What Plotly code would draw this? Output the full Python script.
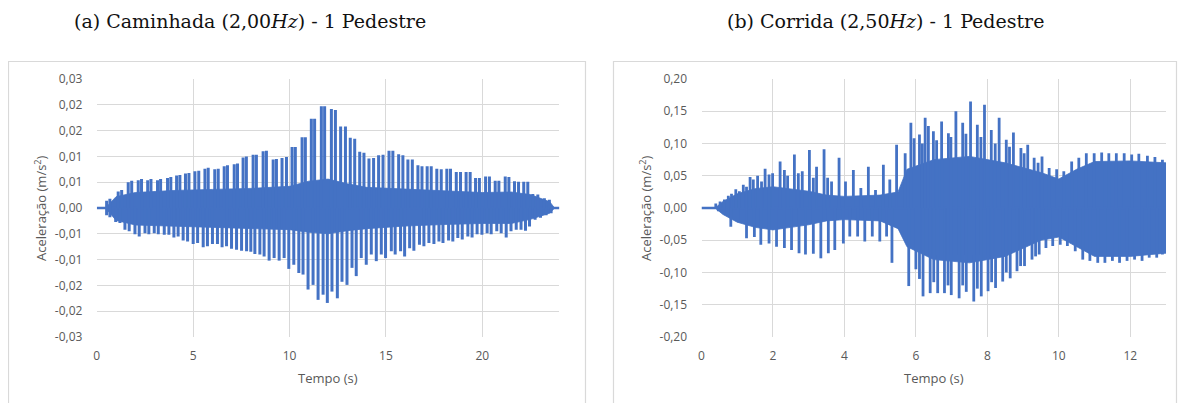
import plotly.graph_objects as go

W, H = 1186, 403
OFF = 8  # the page places the figure 8 px from the window's top-left corner

# ---------------- (a) Caminhada (2,00 Hz) ----------------
a_pos_t = [0.51, 0.68, 1.11, 1.29, 1.63, 1.81, 2.15, 2.32, 2.64, 2.81, 3.15, 3.31, 3.67, 3.84,
           4.14, 4.31, 4.60, 4.78, 5.09, 5.29, 5.61, 5.78, 6.12, 6.30, 6.61, 6.78, 7.13, 7.30,
           7.59, 7.76, 8.11, 8.28, 8.63, 8.80, 9.15, 9.32, 9.61, 9.84, 10.13, 10.30, 10.65, 10.82,
           11.13, 11.30, 11.65, 11.82, 12.17, 12.38, 12.65, 12.90, 13.15, 13.38, 13.64, 13.86,
           14.12, 14.36, 14.62, 14.85, 15.16, 15.36, 15.66, 15.88, 16.14, 16.37, 16.66, 16.87,
           17.14, 17.35, 17.64, 17.87, 18.16, 18.35, 18.65, 18.87, 19.16, 19.37, 19.65, 19.85,
           20.17, 20.37, 20.67, 20.86, 21.19, 21.38, 21.67, 21.88, 22.15, 22.36, 22.62, 22.88,
           23.22, 23.48]
a_pos_v = [0.0014, 0.0018, 0.0032, 0.0035, 0.0050, 0.0053, 0.0054, 0.0056, 0.0054, 0.0056, 0.0054,
           0.0056, 0.0058, 0.0060, 0.0063, 0.0064, 0.0067, 0.0068, 0.0071, 0.0072, 0.0076, 0.0078,
           0.0075, 0.0076, 0.0081, 0.0083, 0.0085, 0.0086, 0.0098, 0.0100, 0.0103, 0.0103, 0.0110,
           0.0111, 0.0094, 0.0095, 0.0097, 0.0099, 0.0118, 0.0118, 0.0137, 0.0137, 0.0173, 0.0173,
           0.0197, 0.0197, 0.0192, 0.0190, 0.0158, 0.0158, 0.0136, 0.0134, 0.0109, 0.0107, 0.0096,
           0.0097, 0.0102, 0.0103, 0.0111, 0.0111, 0.0104, 0.0102, 0.0094, 0.0094, 0.0083, 0.0081,
           0.0081, 0.0081, 0.0076, 0.0075, 0.0076, 0.0076, 0.0070, 0.0070, 0.0070, 0.0070, 0.0058,
           0.0058, 0.0061, 0.0061, 0.0053, 0.0053, 0.0061, 0.0060, 0.0052, 0.0051, 0.0051, 0.0051,
           0.0027, 0.0026, 0.0019, 0.0016]
a_neg_t = [0.51, 0.68, 0.98, 1.20, 1.46, 1.68, 1.98, 2.20, 2.50, 2.70, 2.98, 3.19, 3.50, 3.74,
           4.00, 4.22, 4.48, 4.71, 5.00, 5.23, 5.52, 5.74, 6.00, 6.26, 6.50, 6.73, 6.99, 7.25,
           7.51, 7.77, 7.99, 8.20, 8.46, 8.68, 8.94, 9.20, 9.46, 9.72, 9.96, 10.22, 10.48, 10.70,
           10.96, 11.22, 11.48, 11.74, 11.96, 12.20, 12.48, 12.72, 12.98, 13.24, 13.46, 13.72,
           13.98, 14.24, 14.50, 14.76, 14.98, 15.28, 15.48, 15.76, 15.97, 16.23, 16.45, 16.74,
           16.97, 17.23, 17.49, 17.75, 17.96, 18.25, 18.47, 18.73, 18.96, 19.25, 19.47, 19.73,
           19.98, 20.25, 20.46, 20.75, 20.98, 21.24, 21.49, 21.76, 22.01, 22.24, 22.45, 22.74,
           23.02, 23.31, 23.57]
a_neg_v = [-0.0014, -0.0018, -0.0027, -0.0029, -0.0042, -0.0045, -0.0051, -0.0055, -0.0049, -0.0051,
           -0.0049, -0.0051, -0.0052, -0.0052, -0.0057, -0.0055, -0.0063, -0.0065, -0.0070, -0.0068,
           -0.0076, -0.0074, -0.0070, -0.0070, -0.0076, -0.0074, -0.0079, -0.0081, -0.0083, -0.0084,
           -0.0085, -0.0089, -0.0090, -0.0094, -0.0102, -0.0097, -0.0102, -0.0097, -0.0118, -0.0110,
           -0.0126, -0.0129, -0.0158, -0.0149, -0.0178, -0.0168, -0.0184, -0.0162, -0.0175, -0.0143,
           -0.0149, -0.0116, -0.0132, -0.0097, -0.0110, -0.0090, -0.0103, -0.0090, -0.0097, -0.0084,
           -0.0090, -0.0084, -0.0094, -0.0078, -0.0083, -0.0071, -0.0074, -0.0068, -0.0070, -0.0065,
           -0.0068, -0.0063, -0.0065, -0.0058, -0.0061, -0.0055, -0.0057, -0.0051, -0.0052, -0.0049,
           -0.0051, -0.0045, -0.0049, -0.0057, -0.0045, -0.0042, -0.0042, -0.0044, -0.0036, -0.0023,
           -0.0019, -0.0014, -0.0010]
a_band_t = [0.45, 1.0, 2.0, 4.0, 6.0, 8.0, 10.0, 11.0, 12.0, 13.0, 14.0, 16.0, 18.0, 20.0, 21.5, 22.5, 23.5, 23.75]
a_band_hi = [0.0, 0.0022, 0.0030, 0.0034, 0.0036, 0.0038, 0.0042, 0.0052, 0.0056, 0.0047, 0.0040,
             0.0037, 0.0034, 0.0030, 0.0031, 0.0026, 0.0012, 0.0]
a_band_lo = [0.0, -0.0024, -0.0033, -0.0035, -0.0037, -0.0040, -0.0042, -0.0047, -0.0050, -0.0044,
             -0.0040, -0.0035, -0.0032, -0.0030, -0.0030, -0.0022, -0.0010, 0.0]
a_xmax = 24
a_xticks = [0, 5, 10, 15, 20]
a_yticks = [-0.025, -0.02, -0.015, -0.01, -0.005, 0.0, 0.005, 0.01, 0.015, 0.02, 0.025]
a_yticktext = ["-0,03", "-0,02", "-0,02", "-0,01", "-0,01", "0,00", "0,01", "0,01", "0,02", "0,02", "0,03"]

# ---------------- (b) Corrida (2,50 Hz) ----------------
b_pos_t = [0.40, 0.52, 0.64, 0.75, 0.84, 0.96, 1.06, 1.17, 1.26, 1.36, 1.45, 1.57, 1.68, 1.78, 1.89,
           1.99, 2.20, 2.32, 2.41, 2.60, 2.71, 2.82, 3.02, 3.13, 3.22, 3.43, 3.53, 3.64, 3.85, 4.03,
           4.25, 4.46, 4.67, 4.87, 5.09, 5.27, 5.46, 5.70, 5.86, 5.95, 6.10, 6.18, 6.26, 6.35, 6.49,
           6.58, 6.72, 6.91, 6.98, 7.12, 7.31, 7.40, 7.53, 7.72, 7.82, 7.92, 8.11, 8.22, 8.33, 8.53,
           8.62, 8.73, 8.94, 9.03, 9.13, 9.31, 9.42, 9.53, 9.73, 9.94, 10.14, 10.36, 10.56, 10.77,
           10.99, 11.20, 11.40, 11.61, 11.83, 12.04, 12.24, 12.48, 12.69, 12.90]
b_pos_v = [0.007, 0.010, 0.013, 0.019, 0.022, 0.029, 0.026, 0.036, 0.033, 0.048, 0.044, 0.050, 0.041,
           0.061, 0.052, 0.054, 0.072, 0.059, 0.050, 0.083, 0.054, 0.057, 0.090, 0.047, 0.064, 0.091,
           0.047, 0.041, 0.078, 0.041, 0.059, 0.031, 0.064, 0.028, 0.067, 0.044, 0.098, 0.085, 0.132,
           0.108, 0.114, 0.100, 0.140, 0.127, 0.119, 0.105, 0.134, 0.116, 0.110, 0.150, 0.132, 0.115,
           0.165, 0.129, 0.110, 0.160, 0.121, 0.100, 0.140, 0.106, 0.095, 0.117, 0.093, 0.085, 0.098,
           0.078, 0.070, 0.080, 0.062, 0.060, 0.057, 0.072, 0.078, 0.085, 0.085, 0.086, 0.085, 0.085,
           0.085, 0.083, 0.084, 0.081, 0.079, 0.075]
b_neg_t = [0.47, 0.70, 0.82, 1.03, 1.26, 1.48, 1.66, 1.89, 2.10, 2.32, 2.52, 2.73, 2.91, 3.13, 3.34,
           3.55, 3.73, 3.97, 4.15, 4.37, 4.57, 4.78, 4.99, 5.18, 5.33, 5.80, 6.00, 6.10, 6.20, 6.40,
           6.50, 6.61, 6.80, 6.90, 6.99, 7.21, 7.31, 7.41, 7.62, 7.72, 7.83, 8.02, 8.12, 8.23, 8.43,
           8.53, 8.64, 8.83, 8.93, 9.04, 9.25, 9.35, 9.45, 9.64, 9.83, 10.04, 10.24, 10.46, 10.67,
           10.87, 11.09, 11.29, 11.50, 11.70, 11.91, 12.12, 12.33, 12.53, 12.74, 12.90]
b_neg_v = [-0.005, -0.010, -0.029, -0.022, -0.047, -0.045, -0.057, -0.055, -0.060, -0.062, -0.065,
           -0.070, -0.072, -0.071, -0.078, -0.070, -0.065, -0.055, -0.044, -0.044, -0.052, -0.044,
           -0.052, -0.044, -0.085, -0.121, -0.095, -0.110, -0.137, -0.132, -0.115, -0.132, -0.132,
           -0.120, -0.135, -0.140, -0.120, -0.130, -0.145, -0.125, -0.137, -0.129, -0.115, -0.124,
           -0.114, -0.100, -0.109, -0.098, -0.090, -0.090, -0.080, -0.075, -0.072, -0.062, -0.059,
           -0.057, -0.059, -0.067, -0.080, -0.082, -0.085, -0.085, -0.082, -0.085, -0.082, -0.080,
           -0.082, -0.077, -0.077, -0.072]
b_band_t = [0.38, 0.6, 1.0, 1.5, 2.0, 2.5, 3.0, 3.5, 4.0, 5.0, 5.5, 5.75, 6.5, 7.5, 8.5, 9.5, 10.0, 10.5, 11.0, 12.0, 13.0]
b_band_hi = [0.0, 0.010, 0.022, 0.030, 0.033, 0.030, 0.026, 0.020, 0.018, 0.020, 0.025, 0.060, 0.075,
             0.080, 0.070, 0.055, 0.045, 0.060, 0.072, 0.073, 0.070]
b_band_lo = [0.0, -0.010, -0.022, -0.030, -0.034, -0.030, -0.026, -0.020, -0.018, -0.020, -0.032, -0.060,
             -0.080, -0.085, -0.075, -0.050, -0.045, -0.060, -0.075, -0.075, -0.070]
b_xmax = 13
b_xticks = [0, 2, 4, 6, 8, 10, 12]
b_yticks = [-0.2, -0.15, -0.1, -0.05, 0.0, 0.05, 0.1, 0.15, 0.2]
b_yticktext = ["-0,20", "-0,15", "-0,10", "-0,05", "0,00", "0,05", "0,10", "0,15", "0,20"]

titles = ["(a) Caminhada (2,00<i>Hz</i>) - 1 Pedestre", "(b) Corrida (2,50<i>Hz</i>) - 1 Pedestre"]
x_title = "Tempo (s)"
y_title = "Aceleração (m/s<sup>2</sup>)"

BLUE = "#4472C4"
GRID = "#d9d9d9"
GRAY = "#595959"
TICKFONT = dict(family="Open Sans", size=12, color=GRAY)


def px_x(p):
    return (p - OFF) / W


def px_y(p):
    return 1 - (p - OFF) / H


def spike_xy(ts, vs):
    xs, ys = [], []
    for t, v in zip(ts, vs):
        xs += [t, t, None]
        ys += [0, v, None]
    return xs, ys


fig = go.Figure()

panels = [
    dict(pos_t=a_pos_t, pos_v=a_pos_v, neg_t=a_neg_t, neg_v=a_neg_v, bt=a_band_t, bh=a_band_hi,
         bl=a_band_lo, xmax=a_xmax, xa="x", ya="y", lw=3.0),
    dict(pos_t=b_pos_t, pos_v=b_pos_v, neg_t=b_neg_t, neg_v=b_neg_v, bt=b_band_t, bh=b_band_hi,
         bl=b_band_lo, xmax=b_xmax, xa="x2", ya="y2", lw=2.8),
]

for p in panels:
    fig.add_trace(go.Scatter(x=p["bt"] + p["bt"][::-1], y=p["bh"] + p["bl"][::-1], fill="toself",
                             fillcolor=BLUE, line=dict(width=0.8, color=BLUE), mode="lines",
                             xaxis=p["xa"], yaxis=p["ya"], hoverinfo="skip", showlegend=False))
    fig.add_trace(go.Scatter(x=[0, p["xmax"]], y=[0, 0], mode="lines", line=dict(color=BLUE, width=2.5),
                             xaxis=p["xa"], yaxis=p["ya"], showlegend=False))
    xs, ys = spike_xy(p["pos_t"] + p["neg_t"], p["pos_v"] + p["neg_v"])
    fig.add_trace(go.Scatter(x=xs, y=ys, mode="lines", line=dict(color=BLUE, width=p["lw"]),
                             xaxis=p["xa"], yaxis=p["ya"], showlegend=False))

ydom = [px_y(337), px_y(79)]

common_x = dict(showgrid=True, gridcolor=GRID, gridwidth=1, zeroline=False, showline=False,
                automargin=False, tickfont=TICKFONT, ticks="outside", ticklen=8,
                tickcolor="rgba(0,0,0,0)")
common_y = dict(showgrid=True, gridcolor=GRID, gridwidth=1, zeroline=False, showline=False,
                automargin=False, tickfont=TICKFONT, ticks="outside", ticklen=11,
                tickcolor="rgba(0,0,0,0)")

fig.update_layout(
    width=W, height=H, margin=dict(l=0, r=0, t=0, b=0),
    paper_bgcolor="white", plot_bgcolor="white", showlegend=False,
    xaxis=dict(domain=[px_x(96.8), px_x(559.4)], range=[0, a_xmax], tickvals=a_xticks,
               anchor="y", **common_x),
    yaxis=dict(domain=ydom, range=[-0.025, 0.025], tickvals=a_yticks, ticktext=a_yticktext,
               anchor="x", **common_y),
    xaxis2=dict(domain=[px_x(701.5), px_x(1166)], range=[0, b_xmax], tickvals=b_xticks,
                anchor="y2", **common_x),
    yaxis2=dict(domain=ydom, range=[-0.2, 0.2], tickvals=b_yticks, ticktext=b_yticktext,
                anchor="x2", **common_y),
)

for x0, x1 in [(8.5, 585.5), (613.5, 1176.5)]:
    fig.add_shape(type="path", xref="paper", yref="paper",
                  path=f"M {px_x(x0)} {px_y(430)} L {px_x(x0)} {px_y(61.5)} L {px_x(x1)} {px_y(61.5)} L {px_x(x1)} {px_y(430)}",
                  line=dict(color=GRID, width=1.2), layer="below")

ann = []
for txt, cx in zip(titles, [250, 885]):
    ann.append(dict(text=txt, x=px_x(cx), y=px_y(21), xref="paper", yref="paper", showarrow=False,
                    xanchor="center", yanchor="middle",
                    font=dict(family="DejaVu Serif", size=19, color="#111111")))
for cx in [328, 933.5]:
    ann.append(dict(text=x_title, x=px_x(cx), y=px_y(378), xref="paper", yref="paper", showarrow=False,
                    xanchor="center", yanchor="middle", font=dict(family="Open Sans", size=13, color=GRAY)))
for cx in [40, 645]:
    ann.append(dict(text=y_title, x=px_x(cx), y=px_y(208), xref="paper", yref="paper", showarrow=False,
                    textangle=-90, xanchor="center", yanchor="middle",
                    font=dict(family="Open Sans", size=13, color=GRAY)))
fig.update_layout(annotations=ann)

fig.write_html("out.html")
